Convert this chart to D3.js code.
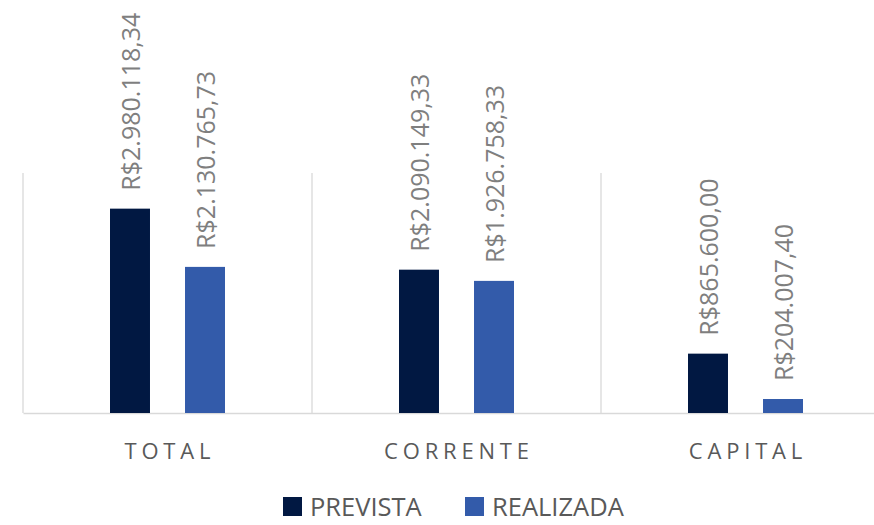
<!DOCTYPE html>
<html>
<head>
<meta charset="utf-8">
<script src="https://cdn.jsdelivr.net/npm/d3@7"></script>
<style>
  html, body { margin: 0; padding: 0; background: #ffffff; }
  svg { display: block; font-family: "Open Sans", "Noto Sans", sans-serif; }
</style>
</head>
<body>
<svg id="chart" width="874" height="525"></svg>
<script>
// Receita prevista x realizada por categoria
const categories = ["TOTAL", "CORRENTE", "CAPITAL"];
const seriesNames = ["PREVISTA", "REALIZADA"];
const prevista = [2980118.34, 2090149.33, 865600.00];
const realizada = [2130765.73, 1926758.33, 204007.40];
const seriesColors = ["#011842", "#335BAA"];

const rows = categories.map((c, i) => ({
  category: c,
  values: [
    { series: seriesNames[0], value: prevista[i] },
    { series: seriesNames[1], value: realizada[i] }
  ]
}));

const svg = d3.select("#chart");

const plot = { left: 23, right: 890, top: 173, bottom: 413 };

const x = d3.scaleBand()
  .domain(categories)
  .range([plot.left, plot.right])
  .padding(0);

const xInner = d3.scaleBand()
  .domain(seriesNames)
  .range([87, 202])
  .paddingInner(0.467)
  .paddingOuter(0);

const y = d3.scaleLinear()
  .domain([0, 3500000])
  .range([plot.bottom, plot.top]);

const color = d3.scaleOrdinal().domain(seriesNames).range(seriesColors);

const brl = v => "R$" + v.toLocaleString("pt-BR", { minimumFractionDigits: 2, maximumFractionDigits: 2 });

// vertical separators between categories
const seps = categories.map(c => x(c)).concat([x(categories[categories.length - 1]) + x.bandwidth()]);
svg.append("g")
  .selectAll("line")
  .data(seps)
  .join("line")
  .attr("x1", d => d).attr("x2", d => d)
  .attr("y1", plot.top).attr("y2", plot.bottom)
  .attr("stroke", "#d9d9d9")
  .attr("stroke-width", 1.3);

// category axis along the baseline
const xAxis = svg.append("g")
  .attr("transform", `translate(0,${plot.bottom})`)
  .call(d3.axisBottom(x).tickSize(0).tickPadding(30));
xAxis.select(".domain").attr("stroke", "#d9d9d9").attr("stroke-width", 1.3);
xAxis.selectAll(".tick text")
  .attr("fill", "#595959")
  .attr("font-size", 22)
  .attr("letter-spacing", "4.8px")
  .attr("dx", "2.4px")
  .attr("font-family", "'Open Sans', sans-serif");

// bars
const groups = svg.append("g")
  .selectAll("g")
  .data(rows)
  .join("g")
  .attr("transform", d => `translate(${x(d.category)},0)`);

groups.selectAll("rect")
  .data(d => d.values)
  .join("rect")
  .attr("x", d => xInner(d.series))
  .attr("width", xInner.bandwidth())
  .attr("y", d => y(d.value))
  .attr("height", d => y(0) - y(d.value))
  .attr("fill", d => color(d.series));

// rotated value labels
groups.selectAll("text.value")
  .data(d => d.values)
  .join("text")
  .attr("class", "value")
  .attr("transform", d => `translate(${xInner(d.series) + xInner.bandwidth() / 2 + 1},${y(d.value) - 18}) rotate(-90)`)
  .attr("dy", "0.35em")
  .attr("text-anchor", "start")
  .attr("fill", "#7f7f7f")
  .attr("font-size", 25)
  .text(d => brl(d.value));

// legend
const legendItems = [
  { name: seriesNames[0], x: 283 },
  { name: seriesNames[1], x: 465 }
];
const legend = svg.append("g")
  .selectAll("g")
  .data(legendItems)
  .join("g")
  .attr("transform", d => `translate(${d.x},497)`);
legend.append("rect")
  .attr("width", 19).attr("height", 19)
  .attr("fill", d => color(d.name));
legend.append("text")
  .attr("x", 27)
  .attr("y", 19)
  .attr("fill", "#595959")
  .attr("font-size", 25.5)
  .text(d => d.name);
</script>
</body>
</html>
